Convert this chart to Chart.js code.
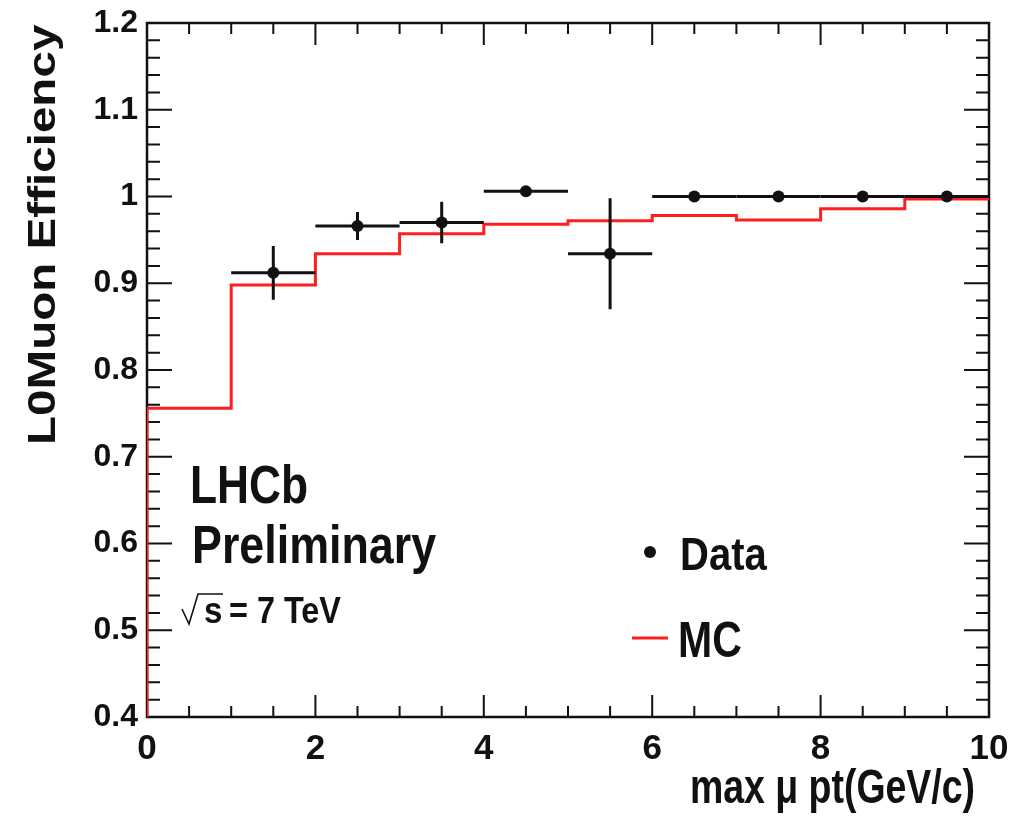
<!DOCTYPE html>
<html>
<head>
<meta charset="utf-8">
<script src="https://cdn.jsdelivr.net/npm/chart.js@4"></script>
<style>
  body { margin: 0; background: #fff; }
  #effcanvas { display: block; }
</style>
</head>
<body>
<canvas id="effcanvas" width="1014" height="822"></canvas>
<script>
// MC histogram: bin edges and efficiency per bin
var binEdges = [0, 1, 2, 3, 4, 5, 6, 7, 8, 9, 10];
var mcEff = [0.756, 0.898, 0.934, 0.957, 0.968, 0.972, 0.978, 0.973, 0.986, 0.997];

// data points (bin centres), efficiency and its error
var dataPt = [1.5, 2.5, 3.5, 4.5, 5.5, 6.5, 7.5, 8.5, 9.5];
var dataEff = [0.912, 0.966, 0.970, 1.006, 0.934, 1.000, 1.000, 1.000, 1.000];
var dataErr = [0.031, 0.016, 0.024, 0.005, 0.064, 0.003, 0.003, 0.003, 0.003];
var dataHalfBin = [0.5, 0.5, 0.5, 0.5, 0.5, 0.5, 0.5, 0.5, 0.5];

// axis ranges and ticks
var xMin = 0, xMax = 10, xMajor = 2, xMinorPerMajor = 4;
var yMin = 0.4, yMax = 1.2, yMajor = 0.1, yMinorPerMajor = 5;

var xTitle = 'max \u03bc pt(GeV/c)';
var yTitle = 'L0Muon Efficiency';
var labelLines = ['LHCb', 'Preliminary'];
var energyLabel = '= 7 TeV';

var ink = '#111';
var mcRed = 'rgb(255, 30, 30)';
var fontFamily = '"Liberation Sans", Arial, Helvetica, sans-serif';

function drawText(ctx, str, x, y, size, sx, align, rot) {
  ctx.save();
  ctx.translate(x, y);
  if (rot) {
    ctx.rotate(rot);
  }
  ctx.scale(sx, 1);
  ctx.font = 'bold ' + size + 'px ' + fontFamily;
  ctx.fillStyle = ink;
  ctx.textAlign = align || 'left';
  ctx.textBaseline = 'alphabetic';
  ctx.fillText(str, 0, 0);
  ctx.restore();
}

// frame with ROOT style ticks on all four sides, pointing inwards
var framePlugin = {
  id: 'frame',
  beforeDatasetsDraw: function (chart) {
    var ctx = chart.ctx;
    var a = chart.chartArea;
    var xs = chart.scales.x, ys = chart.scales.y;
    ctx.save();
    ctx.strokeStyle = ink;
    ctx.lineWidth = 2.5;
    ctx.strokeRect(a.left, a.top, a.right - a.left, a.bottom - a.top);

    ctx.lineWidth = 2;
    var nx = Math.round((xMax - xMin) / xMajor * xMinorPerMajor);
    for (var i = 0; i <= nx; i++) {
      var px = xs.getPixelForValue(xMin + i * xMajor / xMinorPerMajor);
      var len = (i % xMinorPerMajor === 0) ? 22 : 11;
      ctx.beginPath();
      ctx.moveTo(px, a.bottom);
      ctx.lineTo(px, a.bottom - len);
      ctx.moveTo(px, a.top);
      ctx.lineTo(px, a.top + len);
      ctx.stroke();
    }
    var ny = Math.round((yMax - yMin) / yMajor * yMinorPerMajor);
    for (var j = 0; j <= ny; j++) {
      var py = ys.getPixelForValue(yMin + j * yMajor / yMinorPerMajor);
      var len2 = (j % yMinorPerMajor === 0) ? 25 : 13;
      ctx.beginPath();
      ctx.moveTo(a.left, py);
      ctx.lineTo(a.left + len2, py);
      ctx.moveTo(a.right, py);
      ctx.lineTo(a.right - len2, py);
      ctx.stroke();
    }
    ctx.restore();
  },
  afterDatasetsDraw: function (chart) {
    // error bars for the data points
    var ctx = chart.ctx;
    var xs = chart.scales.x, ys = chart.scales.y;
    ctx.save();
    ctx.strokeStyle = ink;
    ctx.lineWidth = 3;
    for (var i = 0; i < dataPt.length; i++) {
      var cx = xs.getPixelForValue(dataPt[i]);
      var cy = ys.getPixelForValue(dataEff[i]);
      ctx.beginPath();
      ctx.moveTo(xs.getPixelForValue(dataPt[i] - dataHalfBin[i]), cy);
      ctx.lineTo(xs.getPixelForValue(dataPt[i] + dataHalfBin[i]), cy);
      ctx.moveTo(cx, ys.getPixelForValue(dataEff[i] - dataErr[i]));
      ctx.lineTo(cx, ys.getPixelForValue(dataEff[i] + dataErr[i]));
      ctx.stroke();
    }
    ctx.restore();
  },
  afterDraw: function (chart) {
    var ctx = chart.ctx;
    var ds = chart.data.datasets;

    // axis titles
    drawText(ctx, xTitle, 975, 803, 48, 0.78, 'right');
    drawText(ctx, yTitle, 55, 445, 39, 1.22, 'left', -Math.PI / 2);

    // experiment label
    drawText(ctx, labelLines[0], 190, 503, 54, 0.82, 'left');
    drawText(ctx, labelLines[1], 192, 563, 54, 0.83, 'left');

    // sqrt(s) = 7 TeV
    ctx.save();
    ctx.strokeStyle = ink;
    ctx.lineWidth = 1.6;
    ctx.beginPath();
    ctx.moveTo(182, 609);
    ctx.lineTo(189, 624);
    ctx.lineTo(198, 594);
    ctx.lineTo(223, 594);
    ctx.stroke();
    ctx.restore();
    drawText(ctx, 's', 204, 623, 36, 0.92, 'left');
    drawText(ctx, energyLabel, 229, 623, 36, 0.9, 'left');

    // legend
    ctx.save();
    ctx.fillStyle = ink;
    ctx.beginPath();
    ctx.arc(650, 552, 6, 0, 2 * Math.PI);
    ctx.fill();
    ctx.strokeStyle = mcRed;
    ctx.lineWidth = 3;
    ctx.beginPath();
    ctx.moveTo(632, 638);
    ctx.lineTo(668, 638);
    ctx.stroke();
    ctx.restore();
    drawText(ctx, ds[0].label, 680, 570, 46, 0.87, 'left');
    drawText(ctx, ds[1].label, 678, 657, 50, 0.82, 'left');
  }
};

var mcLine = [{x: binEdges[0], y: yMin}];
for (var i = 0; i < mcEff.length; i++) {
  mcLine.push({x: binEdges[i], y: mcEff[i]});
}
mcLine.push({x: binEdges[binEdges.length - 1], y: mcEff[mcEff.length - 1]});

var dataPoints = dataPt.map(function (x, i) { return {x: x, y: dataEff[i]}; });

var ctx = document.getElementById('effcanvas').getContext('2d');
var effChart = new Chart(ctx, {
  type: 'line',
  data: {
    datasets: [
      {
        label: 'Data',
        data: dataPoints,
        showLine: false,
        pointRadius: 6,
        pointBackgroundColor: ink,
        pointBorderWidth: 0,
        borderColor: ink
      },
      {
        label: 'MC',
        data: mcLine,
        stepped: 'before',
        borderColor: mcRed,
        borderWidth: 3,
        pointRadius: 0,
        fill: false,
        tension: 0
      }
    ]
  },
  options: {
    responsive: false,
    devicePixelRatio: 1,
    animation: false,
    layout: { padding: { left: 0, right: 25, top: 23, bottom: 0 } },
    plugins: {
      legend: { display: false },
      tooltip: { enabled: false }
    },
    scales: {
      x: {
        type: 'linear',
        min: xMin,
        max: xMax,
        grid: { display: false, drawTicks: false },
        border: { display: false },
        ticks: {
          stepSize: xMajor,
          padding: 11,
          color: ink,
          font: { family: fontFamily, size: 35, weight: 'bold' },
          maxRotation: 0
        },
        afterFit: function (scale) {
          scale.height = 105;
          scale.paddingLeft = 0;
          scale.paddingRight = 0;
        }
      },
      y: {
        type: 'linear',
        min: yMin,
        max: yMax,
        grid: { display: false, drawTicks: false },
        border: { display: false },
        ticks: {
          stepSize: yMajor,
          padding: 9,
          color: ink,
          font: { family: fontFamily, size: 32, weight: 'bold' },
          callback: function (v) { return String(+v.toFixed(1)); }
        },
        afterFit: function (scale) {
          scale.width = 147;
          scale.paddingTop = 0;
          scale.paddingBottom = 0;
        }
      }
    }
  },
  plugins: [framePlugin]
});
</script>
</body>
</html>
